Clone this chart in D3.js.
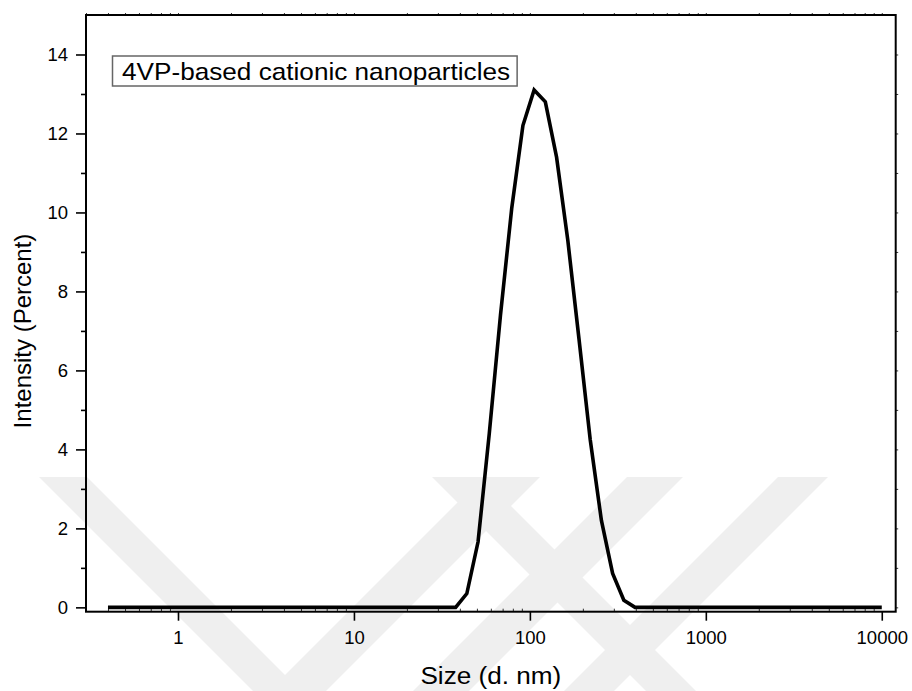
<!DOCTYPE html>
<html>
<head>
<meta charset="utf-8">
<script src="https://cdn.jsdelivr.net/npm/d3@7"></script>
<style>
  html, body { margin: 0; padding: 0; background: #fff; }
  svg { display: block; font-family: "Liberation Sans", Arial, sans-serif; }
</style>
</head>
<body>
<svg id="chart" width="912" height="691"></svg>
<script>
// Size distribution by intensity (DLS), size bins in nm
const sizes = [0.4, 0.4632, 0.5365, 0.6213, 0.7195, 0.8332, 0.9649, 1.117, 1.295, 1.499,
  1.736, 2.01, 2.328, 2.696, 3.122, 3.615, 4.187, 4.849, 5.615, 6.503,
  7.531, 8.721, 10.1, 11.7, 13.54, 15.69, 18.17, 21.04, 24.36, 28.21,
  32.67, 37.84, 43.82, 50.75, 58.77, 68.06, 78.82, 91.28, 105.7, 122.4,
  141.8, 164.2, 190.1, 220.2, 255, 295.3, 342, 396.1, 458.7, 531.2,
  615.1, 712.4, 825, 955.4, 1106, 1281, 1484, 1718, 1990, 2305,
  2669, 3091, 3580, 4145, 4801, 5560, 6439, 7456, 8635, 10000];
const intensity = [0, 0, 0, 0, 0, 0, 0, 0, 0, 0,
  0, 0, 0, 0, 0, 0, 0, 0, 0, 0,
  0, 0, 0, 0, 0, 0, 0, 0, 0, 0,
  0, 0, 0.35, 1.66, 4.4, 7.4, 10.1, 12.2, 13.1, 12.8,
  11.4, 9.3, 6.8, 4.25, 2.2, 0.86, 0.18, 0, 0, 0,
  0, 0, 0, 0, 0, 0, 0, 0, 0, 0,
  0, 0, 0, 0, 0, 0, 0, 0, 0, 0];
const xTicks = [1, 10, 100, 1000, 10000];
const yTicks = [0, 2, 4, 6, 8, 10, 12, 14];
const yMinorTicks = [1, 3, 5, 7, 9, 11, 13];
const xTitle = "Size (d. nm)";
const yTitle = "Intensity (Percent)";
const legendText = "4VP-based cationic nanoparticles";

const W = 912, H = 691;
const svg = d3.select("#chart");
const box = { left: 86, right: 895.7, top: 15, bottom: 611.7 };
const FONT = "Liberation Sans, Arial, sans-serif";
const STRETCH = 1.09; // horizontal text stretch

// faint background watermark of diagonal bands, clipped to the lower part
const wmTop = 477, wmColor = "#efefef";
svg.append("clipPath").attr("id", "wm-clip")
  .append("rect").attr("x", 0).attr("y", wmTop).attr("width", W).attr("height", H - wmTop);
const wm = svg.append("g").attr("fill", wmColor).attr("clip-path", "url(#wm-clip)");
const pts = a => a.map(p => p.join(",")).join(" ");
// "\" bands: x - y between lo and hi
[[-438, -390], [-45, 5]].forEach(([lo, hi]) => {
  wm.append("polygon").attr("points", pts([
    [wmTop + lo, wmTop], [wmTop + hi, wmTop], [H + 40 + hi, H + 40], [H + 40 + lo, H + 40]
  ]));
});
// "/" bands: x + y between lo and hi
[[960, 1017], [1104, 1160], [1255, 1305]].forEach(([lo, hi]) => {
  wm.append("polygon").attr("points", pts([
    [lo - wmTop, wmTop], [hi - wmTop, wmTop], [hi - H - 40, H + 40], [lo - H - 40, H + 40]
  ]));
});

const x = d3.scaleLog().domain([0.3, 12000]).range([box.left, box.right]);
const y = d3.scaleLinear().domain([-0.11, 15]).range([box.bottom, box.top]);

// log minor ticks (2..9 x 10^k) inside the domain
const xMinor = [];
[0.1, 1, 10, 100, 1000].forEach(p => {
  for (let k = 2; k <= 9; k++) {
    const v = +(k * p).toPrecision(3);
    if (v >= x.domain()[0] && v <= x.domain()[1] && !xTicks.includes(v)) xMinor.push(v);
  }
});

const g = svg.append("g");

// bottom axis: major outward, labels
const bottomAxis = d3.axisBottom(x).tickValues(xTicks).tickFormat(d3.format("d"))
  .tickSize(9).tickSizeOuter(0).tickPadding(10);
const bA = g.append("g").attr("transform", `translate(0,${box.bottom})`).call(bottomAxis);
bA.select(".domain").remove();
bA.selectAll(".tick line").attr("stroke", "#000").attr("stroke-width", 1.6);
bA.selectAll(".tick text").attr("font-size", 18.5).attr("fill", "#000")
  .attr("font-family", FONT);
// bottom minor ticks, short and pointing inward
g.append("g").attr("transform", `translate(0,${box.bottom})`)
  .call(d3.axisTop(x).tickValues(xMinor).tickSize(3).tickFormat(""))
  .call(s => s.select(".domain").remove())
  .selectAll(".tick line").attr("stroke", "#000").attr("stroke-width", 0.8);

// top mirror axis: short minor ticks
g.append("g").attr("transform", `translate(0,${box.top})`)
  .call(d3.axisTop(x).tickValues(xMinor.concat(xTicks)).tickSize(2).tickFormat(""))
  .call(s => s.select(".domain").remove())
  .selectAll(".tick line").attr("stroke", "#000").attr("stroke-width", 0.8);

// left axis: major and minor outward
const lA = g.append("g").attr("transform", `translate(${box.left},0)`)
  .call(d3.axisLeft(y).tickValues(yTicks).tickSize(10).tickPadding(8).tickFormat(d3.format("d")));
lA.select(".domain").remove();
lA.selectAll(".tick line").attr("stroke", "#000").attr("stroke-width", 1.6);
lA.selectAll(".tick text").attr("font-size", 18.5).attr("fill", "#000")
  .attr("font-family", FONT);
g.append("g").attr("transform", `translate(${box.left},0)`)
  .call(d3.axisLeft(y).tickValues(yMinorTicks).tickSize(5).tickFormat(""))
  .call(s => s.select(".domain").remove())
  .selectAll(".tick line").attr("stroke", "#000").attr("stroke-width", 1.6);

// right mirror axis: short ticks
g.append("g").attr("transform", `translate(${box.right},0)`)
  .call(d3.axisRight(y).tickValues(yTicks.concat(yMinorTicks)).tickSize(2.5).tickFormat(""))
  .call(s => s.select(".domain").remove())
  .selectAll(".tick line").attr("stroke", "#000").attr("stroke-width", 0.8);

// frame
g.append("rect")
  .attr("x", box.left).attr("y", box.top)
  .attr("width", box.right - box.left).attr("height", box.bottom - box.top)
  .attr("fill", "none").attr("stroke", "#000").attr("stroke-width", 2);

// distribution curve
const line = d3.line().x((d, i) => x(sizes[i])).y(d => y(d));
g.append("path")
  .datum(intensity)
  .attr("d", line)
  .attr("fill", "none")
  .attr("stroke", "#000")
  .attr("stroke-width", 3.6)
  .attr("stroke-linejoin", "miter");

// legend box
const leg = g.append("g");
const legText = leg.append("text")
  .attr("transform", `translate(122,80) scale(${STRETCH},1)`)
  .attr("font-size", 24).attr("fill", "#000")
  .text(legendText);
const tw = legText.node().getComputedTextLength() * STRETCH;
leg.insert("rect", "text")
  .attr("x", 112.5).attr("y", 56)
  .attr("width", (122 + tw + 7) - 112.5).attr("height", 30)
  .attr("fill", "#fff").attr("stroke", "#666").attr("stroke-width", 1.5);

// axis titles
g.append("text")
  .attr("transform", `translate(${(box.left + box.right) / 2},684) scale(${STRETCH},1)`)
  .attr("text-anchor", "middle").attr("font-size", 24).attr("fill", "#000")
  .text(xTitle);
g.append("text")
  .attr("transform", "translate(31,331) rotate(-90)")
  .attr("text-anchor", "middle").attr("font-size", 24).attr("fill", "#000")
  .text(yTitle);
</script>
</body>
</html>
